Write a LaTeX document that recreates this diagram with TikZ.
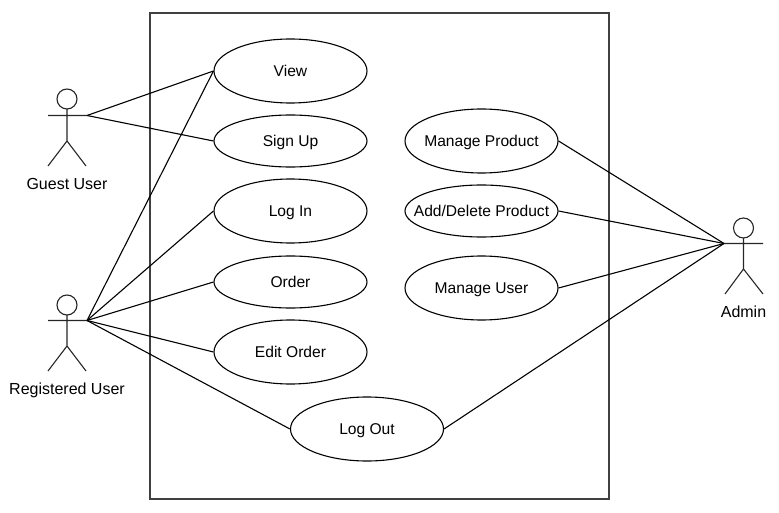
\documentclass[tikz,border=0pt]{standalone}
\usepackage{fontspec}
\setmainfont{Liberation Sans}
\usetikzlibrary{shapes.geometric}
\newcommand{\casetext}[1]{\makebox[0pt][c]{#1}}
\tikzset{
  x=1pt,y=-1pt,
  usecase/.style={draw=black,ellipse,inner sep=0pt,minimum width=153pt,text height=11.6pt,text depth=1.4pt,font=\fontsize{15.6}{18}\selectfont},
  tallcase/.style={usecase,minimum height=64pt},
  flatcase/.style={usecase,minimum height=52pt},
  link/.style={draw=black,line width=1.1pt},
  figure/.style={draw=black!85,line width=1.1pt},
  actorlabel/.style={font=\fontsize{16}{18}\selectfont,inner sep=0pt,text height=11.6pt,text depth=0pt},
  sysbox/.style={draw=black!75,line width=1.1pt}
}
\begin{document}
\begin{tikzpicture}[every node/.append style={line width=1.1pt}]
\useasboundingbox (0,0) rectangle (779,513);
\draw[sysbox] (150,13) rectangle (609,499);
\node[tallcase] (view) at (290.5,71) {\casetext{View}};
\node[flatcase] (signup) at (290.5,141) {\casetext{Sign Up}};
\node[tallcase] (login) at (290.5,211) {\casetext{Log In}};
\node[flatcase] (order) at (290.5,282) {\casetext{Order}};
\node[tallcase] (edit) at (290.5,352) {\casetext{Edit Order}};
\node[tallcase] (logout) at (367,429) {\casetext{Log Out}};
\node[tallcase] (mproduct) at (481.5,141) {\casetext{Manage Product}};
\node[flatcase] (adddel) at (481.5,211) {\casetext{Add/Delete Product}};
\node[tallcase] (muser) at (481.5,288) {\casetext{Manage User}};
% Guest
\draw[figure] (67,99) circle (10);
\draw[figure] (67,109) -- (67,141) (48,115.5) -- (87,115.5) (48,166) -- (67,141) -- (86,166);
\coordinate (guest) at (87,115.5);
\node[actorlabel] (guestlabel) at (67,184) {Guest User};
% Registered
\draw[figure] (67,305) circle (10);
\draw[figure] (67,315) -- (67,346) (48,320.5) -- (87,320.5) (48,371) -- (67,346) -- (86,371);
\coordinate (reg) at (87,320.5);
\node[actorlabel] (reglabel) at (67,389) {Registered User};
% Admin
\draw[figure] (743.5,228) circle (10);
\draw[figure] (743.5,238) -- (743.5,269) (724,243.5) -- (763,243.5) (725,294) -- (743.5,269) -- (763,294);
\coordinate (admin) at (724,243.5);
\node[actorlabel] (adminlabel) at (743.5,312) {Admin};
% Links
\draw[link] (guest) -- (view.west);
\draw[link] (guest) -- (signup.west);
\draw[link] (reg) -- (view.west);
\draw[link] (reg) -- (login.west);
\draw[link] (reg) -- (order.west);
\draw[link] (reg) -- (edit.west);
\draw[link] (reg) -- (logout.west);
\draw[link] (admin) -- (mproduct.east);
\draw[link] (admin) -- (adddel.east);
\draw[link] (admin) -- (muser.east);
\draw[link] (admin) -- (logout.east);
\end{tikzpicture}
\end{document}
